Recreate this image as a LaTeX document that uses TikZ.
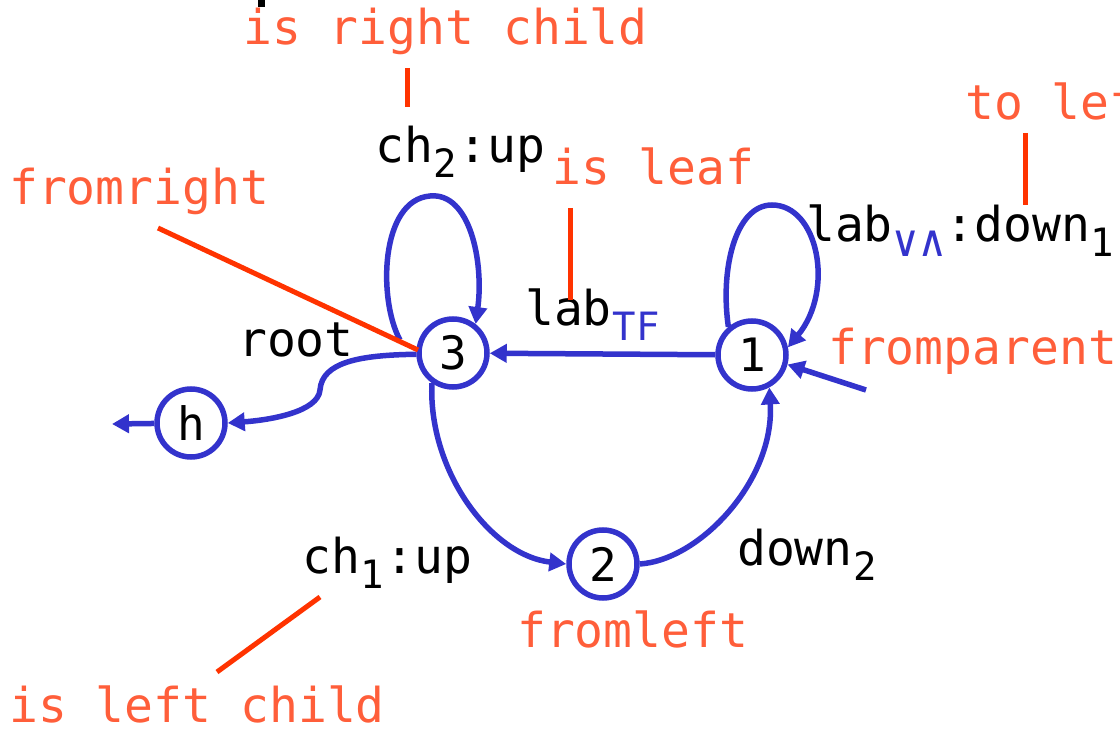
\documentclass[tikz,border=0pt]{standalone}
\usepackage{fontspec}
\setmonofont{DejaVu Sans Mono}
\usetikzlibrary{arrows.meta}
\definecolor{edgeblue}{HTML}{3333CC}
\definecolor{notered}{HTML}{FF5E3A}
\definecolor{leadred}{HTML}{FF3300}
% lowered, smaller index text
\newcommand\lowsub[1]{\kern1pt\raisebox{-15pt}{\fontsize{39pt}{39pt}\selectfont #1}\kern1pt}
% lowered logic operators, set a little larger
\newcommand\lowops[1]{\raisebox{-15pt}{\fontsize{44pt}{44pt}\selectfont #1}}

\begin{document}
\begin{tikzpicture}[x=1pt,y=-1pt,
  state/.style={circle, draw=edgeblue, line width=5.5pt, minimum size=68pt, inner sep=0pt,
    font=\ttfamily\fontsize{46pt}{46pt}\selectfont},
  edge/.style={draw=edgeblue, line width=5.5pt, -{Triangle[length=17pt,width=18pt]}},
  lead/.style={draw=leadred, line width=5pt},
  note/.style={anchor=base west, inner sep=0pt, text=notered,
    font=\ttfamily\fontsize{48pt}{48pt}\selectfont},
  tag/.style={anchor=base west, inner sep=0pt, text=black,
    font=\ttfamily\fontsize{48pt}{48pt}\selectfont}]
\useasboundingbox (0,0) rectangle (1120,735);
\clip (0,0) rectangle (1120,735);

% states
\node[state] (n3) at (453,353) {3};
\node[state] (n1) at (752,355) {1};
\node[state] (n2) at (603,564) {2};
\node[state] (h)  at (191,423) {h};

% free ends
\coordinate (loop3) at (400,340);
\coordinate (hout) at (112,424);
\coordinate (pin) at (866,390);

% transitions
\draw[edge] (n1) -- (n3);
\draw[edge] (loop3) .. controls (378,300) and (380,200) .. (430,196)
  .. controls (470,192) and (484,262) .. (n3.52);
\draw[edge] (n1.130) .. controls (720,270) and (735,205) .. (772,205)
  .. controls (818,205) and (835,290) .. (n1.12);
\draw[edge] (n3.182) .. controls (360,355) and (322,362) .. (320,390)
  .. controls (318,412) and (270,420) .. (h.east);
\draw[edge] (h) -- (hout);
\draw[edge] (n3.235) .. controls (428,470) and (490,555) .. (n2.west);
\draw[edge] (n2.east) .. controls (700,560) and (775,480) .. (n1.298);
\draw[edge] (pin) -- (n1.-15);

% transition labels
\node[tag] (lch2) at (375,163) {ch\lowsub{2}:up};
\node[tag] (ltf) at (525,326) {lab\textcolor{edgeblue}{\lowsub{TF}}};
\node[tag] (lva) at (806,242) {lab\textcolor{edgeblue}{\lowops{∨∧}}:down\raisebox{-15pt}{\fontsize{39pt}{39pt}\selectfont 1}};
\node[tag] (lroot) at (238,357) {root};
\node[tag] (lch1) at (302,573) {ch\lowsub{1}:up};
\node[tag] (ldown) at (737,565) {down\lowsub{2}};

% notes
\node[note] (nrc) at (243,45) {is right child};
\node[note] (nleaf) at (552,185) {is leaf};
\node[note] (nfr) at (9,205) {fromright};
\node[note] (ntl) at (965,120) {to left};
\node[note] (nfp) at (828,365) {fromparent};
\node[note] (nfl) at (517,647) {fromleft};
\node[note] (nlc) at (9,722) {is left child};

% leader lines
\coordinate (a1) at (407,68);   \coordinate (a2) at (407,107);
\coordinate (b1) at (570,208);  \coordinate (b2) at (570,300);
\coordinate (c1) at (158,228);  \coordinate (c2) at (418,350);
\coordinate (d1) at (1025,133); \coordinate (d2) at (1025,205);
\coordinate (e1) at (320,597);  \coordinate (e2) at (217,672);
\draw[lead] (a1) -- (a2);
\draw[lead] (b1) -- (b2);
\draw[lead] (c1) -- (c2);
\draw[lead] (d1) -- (d2);
\draw[lead] (e1) -- (e2);

% cut-off mark at the top edge
\fill[black] (258,0) rectangle (265,7);
\end{tikzpicture}
\end{document}
